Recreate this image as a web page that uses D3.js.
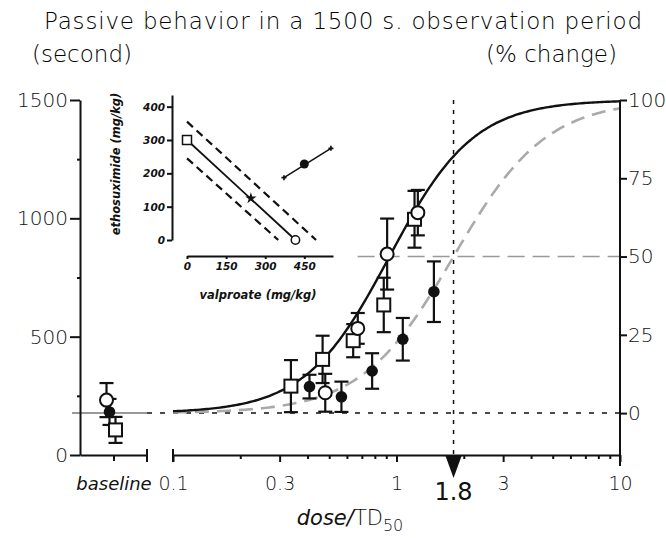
<!DOCTYPE html>
<html>
<head>
<meta charset="utf-8">
<script src="https://cdn.jsdelivr.net/npm/d3@7"></script>
<style>
  html, body { margin: 0; background: #fff; }
  svg { display: block; font-family: "DejaVu Sans", sans-serif; }
</style>
</head>
<body>
<svg id="chart" width="666" height="538"></svg>
<script>
// --- valores ---
const yTicksSec = [0, 500, 1000, 1500];
const yMinorSec = [250, 750, 1250];
const yTicksPct = [0, 25, 50, 75, 100];
const xTickDoses = [0.1, 0.3, 1, 3, 10];
const xTickLabels = ['0.1', '0.3', '1', '3', '10'];

// baseline: círculo abierto, círculo lleno, cuadrado abierto
const baselineKinds = ['openCircle', 'filledCircle', 'openSquare'];
const baselineSec = [232, 182, 106];
const baselineSe = [72, 55, 55];

const squareDose = [0.337, 0.467, 0.64, 0.877, 1.204];
const squareSec = [291, 404, 483, 634, 996];
const squareSe = [110, 100, 70, 115, 120];

const openDose = [0.48, 0.671, 0.908, 1.246];
const openSec = [263, 535, 849, 1024];
const openSe = [80, 65, 150, 96];

const filledDose = [0.408, 0.567, 0.778, 1.067, 1.47];
const filledSec = [289, 246, 355, 489, 690];
const filledSe = [50, 64, 75, 90, 128];

// ajustes log-logísticos (% cambio): DE50 y pendiente de Hill
const fitEd50 = [0.93, 1.8];
const fitSlope = [2.3, 2.1];
const baselineRef = 177;      // segundos que equivalen a 0 %
const td50Mark = 1.8;
const halfPct = 50;
const halfLineFrom = 0.67;

// inset (isobolograma)
const insetXTicks = [0, 150, 300, 450];
const insetYTicks = [0, 100, 200, 300, 400];
const isobol = [[0, 300], [416, 0]];
const isobolUpper = [[0, 355], [495, 0]];
const isobolLower = [[0, 245], [350, 0]];
const additivePt = [245, 125];
const mixturePt = [450, 228];
const mixtureCi = [[372, 187], [552, 275]];

// --- layout ---
const svg = d3.select('#chart');
const X0 = 80, X1 = 620, Y0 = 455, Y1 = 100;
const LIGHT = 200;

const ySec = d3.scaleLinear().domain([0, 1500]).range([Y0, Y1]);
const yPct = d3.scaleLinear().domain([0, 100]).range([ySec(baselineRef), Y1]);
const xDose = d3.scaleLog().domain([0.1, 10]).range([173, X1]);
const xBase = d3.scalePoint().domain(['axis', 'baseline', 'break']).range([X0, 147]);
const dodge = { openCircle: -7, filledCircle: -4, openSquare: 2 };

// títulos
svg.append('text').attr('x', 343).attr('y', 29).attr('text-anchor', 'middle')
  .attr('font-size', 23).attr('font-weight', LIGHT).attr('textLength', 598)
  .text('Passive behavior in a 1500 s. observation period');
svg.append('text').attr('x', 32).attr('y', 62).attr('font-size', 23).attr('font-weight', LIGHT)
  .text('(second)');
svg.append('text').attr('x', 617).attr('y', 62).attr('text-anchor', 'end')
  .attr('font-size', 23).attr('font-weight', LIGHT).text('(% change)');

// ---------- líneas de referencia ----------
const ref = svg.append('g');
ref.append('line')
  .attr('x1', 72).attr('x2', xBase('break')).attr('y1', yPct(0)).attr('y2', yPct(0))
  .attr('stroke', '#999').attr('stroke-width', 2);
ref.append('line')
  .attr('x1', xBase('break')).attr('x2', X1).attr('y1', yPct(0)).attr('y2', yPct(0))
  .attr('stroke', '#111').attr('stroke-width', 1.5).attr('stroke-dasharray', '5,8');
ref.append('line')
  .attr('x1', xDose(halfLineFrom)).attr('x2', X1).attr('y1', yPct(halfPct)).attr('y2', yPct(halfPct))
  .attr('stroke', '#999').attr('stroke-width', 1.6).attr('stroke-dasharray', '17,8');
ref.append('line')
  .attr('x1', xDose(td50Mark)).attr('x2', xDose(td50Mark)).attr('y1', Y1).attr('y2', Y0)
  .attr('stroke', '#111').attr('stroke-width', 1.5).attr('stroke-dasharray', '4,6');

// ---------- curvas ajustadas ----------
const doses = d3.range(-1, 1.0001, 0.01).map(e => Math.pow(10, e));
const pctAt = (d, i) => 100 / (1 + Math.pow(fitEd50[i] / d, fitSlope[i]));
const curve = d3.line().x(d => xDose(d[0])).y(d => yPct(d[1])).curve(d3.curveMonotoneX);

svg.append('path')
  .attr('d', curve(doses.map(d => [d, pctAt(d, 1)])))
  .attr('fill', 'none').attr('stroke', '#aaa').attr('stroke-width', 2.6)
  .attr('stroke-dasharray', '14,8');
svg.append('path')
  .attr('d', curve(doses.map(d => [d, pctAt(d, 0)])))
  .attr('fill', 'none').attr('stroke', '#111').attr('stroke-width', 2.4);

// ---------- ejes ----------
const axisStyle = (g, size) => {
  g.selectAll('path, line').attr('stroke', '#111').attr('stroke-width', 2);
  g.selectAll('text').attr('fill', '#111').attr('font-size', size)
    .attr('font-weight', LIGHT).attr('font-family', '"DejaVu Sans", sans-serif');
};

svg.append('g').attr('transform', `translate(${X0},0)`)
  .call(d3.axisLeft(ySec).tickValues(yTicksSec).tickSize(10).tickSizeOuter(0).tickPadding(2)
    .tickFormat(d3.format('d')))
  .call(g => axisStyle(g, 20));
svg.append('g').attr('transform', `translate(${X0},0)`)
  .call(d3.axisLeft(ySec).tickValues(yMinorSec).tickSize(3).tickFormat(''))
  .call(g => { g.select('.domain').remove(); axisStyle(g, 10); });

svg.append('line').attr('x1', X1).attr('x2', X1).attr('y1', Y1).attr('y2', 466)
  .attr('stroke', '#111').attr('stroke-width', 2);
svg.append('g').attr('transform', `translate(${X1},0)`)
  .call(d3.axisRight(yPct).tickValues(yTicksPct).tickSize(7).tickPadding(1))
  .call(g => { g.select('.domain').remove(); axisStyle(g, 20); });

// eje x: tramo baseline
svg.append('g').attr('transform', `translate(0,${Y0})`)
  .call(d3.axisBottom(xBase).tickValues(['baseline']).tickSize(6).tickSizeOuter(0).tickPadding(16))
  .call(g => { axisStyle(g, 18); g.selectAll('text').attr('font-style', 'italic'); });

// eje x: tramo logarítmico
const majorSet = new Set(xTickDoses.map(String));
svg.append('g').attr('transform', `translate(0,${Y0})`)
  .call(d3.axisBottom(xDose).tickValues(xTickDoses).tickSize(7).tickSizeOuter(0).tickPadding(15)
    .tickFormat((d, i) => xTickLabels[i]))
  .call(g => axisStyle(g, 19));
svg.append('g').attr('transform', `translate(0,${Y0})`)
  .call(d3.axisBottom(xDose).tickValues(xDose.ticks().filter(d => !majorSet.has(String(+d.toPrecision(3)))))
    .tickSize(4).tickFormat(''))
  .call(g => { g.select('.domain').remove(); axisStyle(g, 10); });

// marcas de corte del eje
[xBase('break'), xDose(0.1)].forEach(x => {
  svg.append('line').attr('x1', x).attr('x2', x).attr('y1', Y0 - 6).attr('y2', Y0 + 7)
    .attr('stroke', '#111').attr('stroke-width', 2);
});

// flecha TD50 = 1.8
const ax = xDose(td50Mark);
svg.append('path')
  .attr('d', `M${ax - 8},${Y0 + 1}L${ax + 8},${Y0 + 1}L${ax},${Y0 + 23}Z`)
  .attr('fill', '#111');
svg.append('text').attr('x', ax).attr('y', 500).attr('text-anchor', 'middle')
  .attr('font-size', 24).attr('fill', '#111').text(td50Mark.toString());

// título del eje x
const xt = svg.append('text').attr('x', 350).attr('y', 525).attr('text-anchor', 'middle')
  .attr('font-size', 21).attr('font-weight', LIGHT).attr('fill', '#111');
xt.append('tspan').attr('font-style', 'italic').text('dose/');
xt.append('tspan').text('TD');
xt.append('tspan').attr('font-size', 16).attr('dy', 6).text('50');

// ---------- datos ----------
const pts = [];
baselineKinds.forEach((k, i) => pts.push({ kind: k, x: xBase('baseline') + dodge[k], v: baselineSec[i], se: baselineSe[i] }));
filledDose.forEach((d, i) => pts.push({ kind: 'filledCircle', x: xDose(d), v: filledSec[i], se: filledSe[i] }));
squareDose.forEach((d, i) => pts.push({ kind: 'openSquare', x: xDose(d), v: squareSec[i], se: squareSe[i] }));
openDose.forEach((d, i) => pts.push({ kind: 'openCircle', x: xDose(d), v: openSec[i], se: openSe[i] }));

const eb = svg.append('g').attr('stroke', '#111').attr('stroke-width', 2.2);
pts.forEach(p => {
  const yt = ySec(p.v + p.se), yb = ySec(p.v - p.se);
  eb.append('line').attr('x1', p.x).attr('x2', p.x).attr('y1', yt).attr('y2', yb);
  eb.append('line').attr('x1', p.x - 7).attr('x2', p.x + 7).attr('y1', yt).attr('y2', yt);
  eb.append('line').attr('x1', p.x - 7).attr('x2', p.x + 7).attr('y1', yb).attr('y2', yb);
});

const mk = svg.append('g');
pts.forEach(p => {
  const y = ySec(p.v);
  if (p.kind === 'openSquare') {
    mk.append('rect').attr('x', p.x - 6.5).attr('y', y - 6.5).attr('width', 13).attr('height', 13)
      .attr('fill', '#fff').attr('stroke', '#111').attr('stroke-width', 2);
  } else if (p.kind === 'openCircle') {
    mk.append('circle').attr('cx', p.x).attr('cy', y).attr('r', 6.5)
      .attr('fill', '#fff').attr('stroke', '#111').attr('stroke-width', 2);
  } else {
    mk.append('circle').attr('cx', p.x).attr('cy', y).attr('r', 5.8).attr('fill', '#111');
  }
});

// ---------- inset ----------
const ix = d3.scaleLinear().domain([0, 560]).range([187, 333]);
const iy = d3.scaleLinear().domain([0, 435]).range([240, 95]);
const ins = svg.append('g');
const insetAxis = g => {
  g.selectAll('path, line').attr('stroke', '#111').attr('stroke-width', 2);
  g.selectAll('text').attr('fill', '#111').attr('font-size', 10.5).attr('font-weight', 'bold')
    .attr('font-style', 'italic').attr('font-family', '"DejaVu Sans", sans-serif');
};
ins.append('g').attr('transform', 'translate(0,256)')
  .call(d3.axisBottom(ix).tickValues(insetXTicks).tickSize(3).tickSizeOuter(0).tickPadding(4))
  .call(insetAxis);
ins.append('g').attr('transform', 'translate(172,0)')
  .call(d3.axisLeft(iy).tickValues(insetYTicks).tickSize(5).tickSizeOuter(0).tickPadding(2))
  .call(insetAxis);

ins.append('text').attr('x', 258).attr('y', 299).attr('text-anchor', 'middle')
  .attr('font-size', 11.5).attr('font-weight', 'bold').attr('font-style', 'italic').attr('fill', '#111')
  .text('valproate (mg/kg)');
ins.append('text').attr('transform', 'translate(120,164) rotate(-90)').attr('text-anchor', 'middle')
  .attr('font-size', 11.5).attr('font-weight', 'bold').attr('font-style', 'italic').attr('fill', '#111')
  .text('ethosuximide (mg/kg)');

const iline = d3.line().x(d => ix(d[0])).y(d => iy(d[1]));
[isobolUpper, isobolLower].forEach(l => ins.append('path').attr('d', iline(l))
  .attr('fill', 'none').attr('stroke', '#111').attr('stroke-width', 2.2).attr('stroke-dasharray', '8,5'));
ins.append('path').attr('d', iline(isobol)).attr('fill', 'none').attr('stroke', '#111').attr('stroke-width', 1.8);
ins.append('path').attr('d', iline(mixtureCi)).attr('fill', 'none').attr('stroke', '#111').attr('stroke-width', 1.5);
mixtureCi.forEach(c => ins.append('path')
  .attr('d', d3.symbol(d3.symbolCross, 14)()).attr('transform', `translate(${ix(c[0])},${iy(c[1])})`)
  .attr('fill', '#111'));

ins.append('rect').attr('x', ix(isobol[0][0]) - 4.5).attr('y', iy(isobol[0][1]) - 4.5)
  .attr('width', 9).attr('height', 9).attr('fill', '#fff').attr('stroke', '#111').attr('stroke-width', 1.5);
ins.append('circle').attr('cx', ix(isobol[1][0])).attr('cy', iy(isobol[1][1])).attr('r', 4.2)
  .attr('fill', '#fff').attr('stroke', '#111').attr('stroke-width', 1.5);
ins.append('path').attr('d', d3.symbol(d3.symbolStar, 40)())
  .attr('transform', `translate(${ix(additivePt[0])},${iy(additivePt[1])})`).attr('fill', '#111');
ins.append('circle').attr('cx', ix(mixturePt[0])).attr('cy', iy(mixturePt[1])).attr('r', 4.5).attr('fill', '#111');
</script>
</body>
</html>
